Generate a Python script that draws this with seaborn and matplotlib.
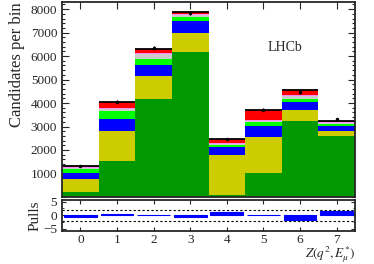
import matplotlib
matplotlib.use("Agg")
import matplotlib.pyplot as plt
from matplotlib.ticker import MultipleLocator
import numpy as np
import pandas as pd
import seaborn as sns

# Z(q2, E_mu*) bins
bins = [0, 1, 2, 3, 4, 5, 6, 7]

# fit components per bin (stacked bottom -> top)
comp_green = [200, 1550, 4170, 6190, 80, 1040, 3250, 2600]
comp_yellow = [550, 1240, 990, 780, 1720, 1530, 460, 190]
comp_blue = [270, 540, 470, 540, 310, 460, 350, 240]
comp_lime = [170, 340, 240, 140, 110, 180, 120, 80]
comp_grey = [40, 90, 210, 90, 40, 20, 100, 40]
comp_pink = [30, 40, 40, 40, 30, 30, 50, 40]
comp_red = [40, 230, 200, 80, 160, 430, 210, 60]

data_vals = [1300, 4050, 6340, 7850, 2480, 3720, 4450, 3310]
pulls = [-0.8, 0.3, 0.1, -0.7, 1.3, 0.1, -1.9, 1.4]

components = [comp_green, comp_yellow, comp_blue, comp_lime, comp_grey, comp_pink, comp_red]
colors = ["#009a00", "#cccc00", "#0000ff", "#00ff00", "#cccccc", "#ff88ff", "#ff0000"]

sns.set_style("ticks")
plt.rcParams["font.family"] = ["Liberation Serif", "DejaVu Serif"]
plt.rcParams["mathtext.fontset"] = "stix"

fig = plt.figure(figsize=(3.74, 2.64), dpi=100)
ax = fig.add_axes([0.166, 0.254, 0.783, 0.738])
axp = fig.add_axes([0.166, 0.126, 0.783, 0.116])

cum = np.cumsum(np.array(components), axis=0)
total = cum[-1]

# draw from the top layer down so each lower layer covers the one above
for level in range(len(components) - 1, -1, -1):
    df = pd.DataFrame({"bin": bins, "val": cum[level]})
    sns.barplot(data=df, x="bin", y="val", color=colors[level], width=1.0,
                saturation=1, linewidth=0, ax=ax)

# total fit outline
ax.hlines(total, np.array(bins) - 0.5, np.array(bins) + 0.5, color="black", lw=1.3)
ax.errorbar(bins, data_vals, yerr=np.sqrt(data_vals), fmt="o", ms=1.5,
            color="black", elinewidth=1, capsize=0)

ax.set_xlim(-0.5, 7.5)
ax.set_ylim(0, 8300)
ax.set_xlabel("")
ax.set_ylabel("Candidates per bin", fontsize=12, loc="top")
ax.yaxis.set_major_locator(MultipleLocator(1000))
ax.yaxis.set_minor_locator(MultipleLocator(200))
ax.set_yticks([1000, 2000, 3000, 4000, 5000, 6000, 7000, 8000])
ax.set_xticks(bins)
ax.set_xticklabels([])
ax.tick_params(direction="in", top=True, right=True, labelsize=9.5, length=5, width=0.8)
ax.tick_params(which="minor", direction="in", right=True, length=2.5, width=0.8)
ax.text(5.6, 6360, "LHCb", fontsize=10, ha="center", va="center")

# pulls panel
dfp = pd.DataFrame({"bin": bins, "pull": pulls})
sns.barplot(data=dfp, x="bin", y="pull", color="#0000ff", width=0.9,
            saturation=1, linewidth=0.8, edgecolor="#0000ff", ax=axp)
axp.axhline(2, color="black", ls=(0, (2, 2)), lw=0.8)
axp.axhline(-2, color="black", ls=(0, (2, 2)), lw=0.8)
axp.set_xlim(-0.5, 7.5)
axp.set_ylim(-5.8, 5.6)
axp.set_yticks([-5, 0, 5])
axp.set_yticklabels(["\u22125", "0", "5"])
axp.yaxis.set_minor_locator(MultipleLocator(2.5))
axp.set_xticks(bins)
axp.set_xticklabels([str(b) for b in bins])
axp.set_ylabel("Pulls", fontsize=11, labelpad=1)
axp.set_xlabel(r"$Z(q^{2},E_{\mu}^{*})$", fontsize=9.5, loc="right")
axp.xaxis.set_label_coords(1.0, -0.45)
axp.tick_params(direction="in", top=True, right=True, labelsize=9.5, length=3, width=0.8)
axp.tick_params(axis="x", pad=2)
axp.tick_params(which="minor", direction="in", right=True, length=1.5)

for a in (ax, axp):
    for s in a.spines.values():
        s.set_linewidth(1.3)

fig.savefig("out.png", dpi=100)
